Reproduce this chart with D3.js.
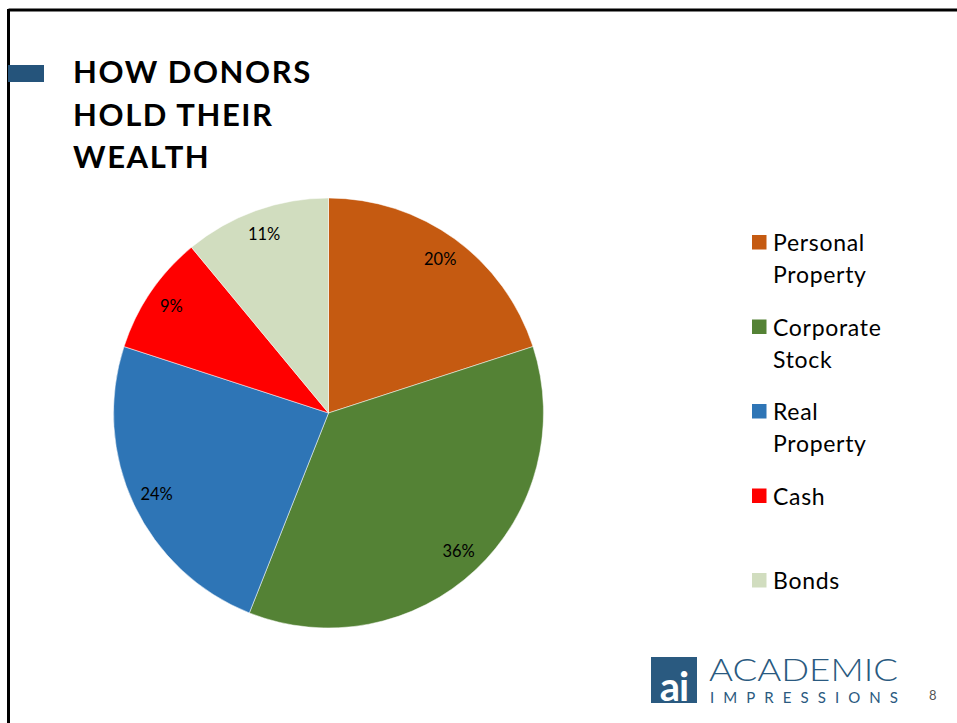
<!DOCTYPE html>
<html>
<head>
<meta charset="utf-8">
<script src="https://cdn.jsdelivr.net/npm/d3@7"></script>
<style>
  html, body { margin: 0; padding: 0; background: #ffffff; }
  svg { display: block; }
</style>
</head>
<body>
<svg id="chart" width="957" height="723"></svg>
<script>
// ---- data ----
const categories = ["Personal Property", "Corporate Stock", "Real Property", "Cash", "Bonds"];
const legendLines = [["Personal", "Property"], ["Corporate", "Stock"], ["Real", "Property"], ["Cash"], ["Bonds"]];
const values = [20, 36, 24, 9, 11];
const colors = ["#c55a11", "#548235", "#2e75b6", "#ff0000", "#d1ddbf"];
const titleLines = ["HOW DONORS", "HOLD THEIR", "WEALTH"];
const pageNumber = "8";

const svg = d3.select("#chart");
const W = 957, H = 723;
const FONT = "Lato, 'Open Sans', sans-serif";

// slide border
svg.append("line").attr("x1", 8.5).attr("y1", 10).attr("x2", W).attr("y2", 10)
  .attr("stroke", "#000").attr("stroke-width", 3);
svg.append("line").attr("x1", 8.5).attr("y1", 9).attr("x2", 8.5).attr("y2", H)
  .attr("stroke", "#000").attr("stroke-width", 3);

// title accent bar
svg.append("rect").attr("x", 8).attr("y", 65).attr("width", 36).attr("height", 17).attr("fill", "#25547b");

// title
const title = svg.append("text").attr("font-family", FONT).attr("font-weight", 700)
  .attr("font-size", 31).attr("letter-spacing", 1.6).attr("fill", "#000");
titleLines.forEach((t, i) => {
  title.append("tspan").attr("x", 73).attr("y", 83 + i * 42.5).text(t);
});

// pie
const cx = 328.5, cy = 413, R = 215;
const pie = d3.pie().sort(null).value(d => d)(values);
const arc = d3.arc().innerRadius(0).outerRadius(R);
const labelArc = d3.arc().innerRadius(190).outerRadius(190);
const color = d3.scaleOrdinal().domain(d3.range(values.length)).range(colors);

const g = svg.append("g").attr("transform", `translate(${cx},${cy})`);
g.selectAll("path.slice").data(pie).enter().append("path")
  .attr("class", "slice")
  .attr("d", arc)
  .attr("fill", (d, i) => color(i))
  .attr("stroke", "#ffffff").attr("stroke-width", 0.5);

g.selectAll("text.lbl").data(pie).enter().append("text")
  .attr("class", "lbl")
  .attr("transform", d => `translate(${labelArc.centroid(d)})`)
  .attr("text-anchor", "middle").attr("dy", "0.35em")
  .attr("font-family", FONT).attr("font-size", 16.5).attr("fill", "#000")
  .text(d => d.data + "%");

// legend
const legendY = d3.scalePoint().domain(d3.range(categories.length)).range([235, 573]);
const lg = svg.append("g");
categories.forEach((c, i) => {
  const y = legendY(i);
  lg.append("rect").attr("x", 752).attr("y", y).attr("width", 14.5).attr("height", 14.5).attr("fill", color(i));
  const t = lg.append("text").attr("font-family", FONT).attr("font-size", 23).attr("letter-spacing", 0.7).attr("fill", "#000");
  legendLines[i].forEach((ln, j) => {
    t.append("tspan").attr("x", 773).attr("y", y + 16 + j * 32).text(ln);
  });
});

// logo
const logoColor = "#2a5a80";
svg.append("rect").attr("x", 651).attr("y", 657).attr("width", 46).attr("height", 46).attr("fill", logoColor);
svg.append("text").attr("x", 674).attr("y", 701).attr("text-anchor", "middle")
  .attr("font-family", FONT).attr("font-weight", 700).attr("font-size", 40).attr("fill", "#fff")
  .attr("letter-spacing", -1).text("ai");
svg.append("text").attr("x", 709).attr("y", 681).attr("font-family", FONT).attr("font-weight", 300)
  .attr("font-size", 31).attr("fill", logoColor).attr("textLength", 189).attr("lengthAdjust", "spacingAndGlyphs").text("ACADEMIC");
svg.append("text").attr("x", 710).attr("y", 702.5).attr("font-family", FONT).attr("font-weight", 400)
  .attr("font-size", 15).attr("fill", logoColor).attr("textLength", 188).attr("lengthAdjust", "spacing").text("IMPRESSIONS");
svg.append("text").attr("x", 929).attr("y", 700).attr("font-family", FONT)
  .attr("font-size", 13).attr("fill", "#555").text(pageNumber);
</script>
</body>
</html>
